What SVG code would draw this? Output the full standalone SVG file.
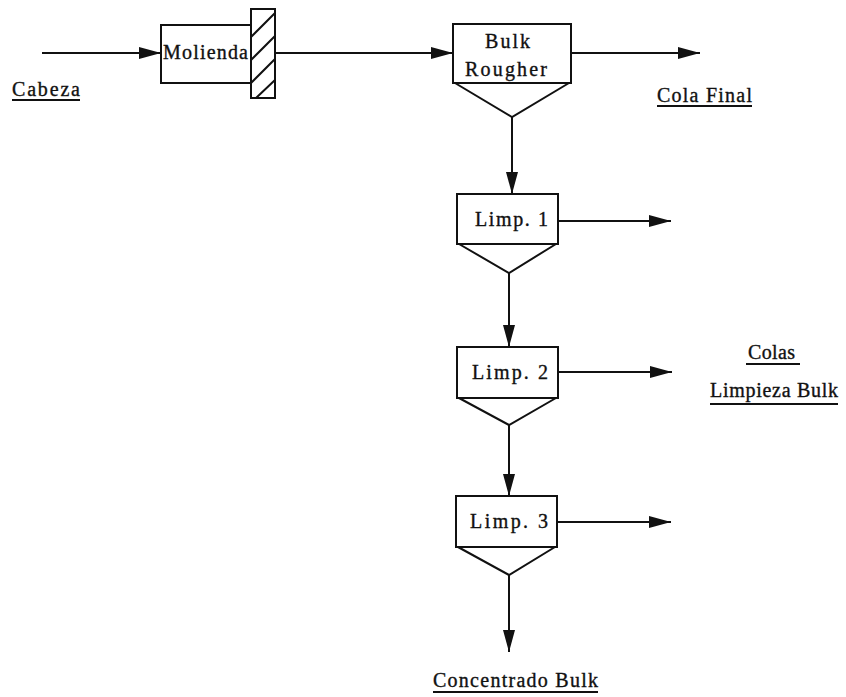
<svg xmlns="http://www.w3.org/2000/svg" width="846" height="697" viewBox="0 0 846 697">
<style>
.b{fill:#fff;stroke:#111;stroke-width:2}
.l{fill:none;stroke:#111;stroke-width:2}
.t{font-family:"Liberation Serif",serif;font-size:20px;fill:#111;stroke:#111;stroke-width:0.35}
.u{stroke:#111;stroke-width:1.8}
</style>
<defs>
<marker id="a" markerUnits="userSpaceOnUse" markerWidth="24" markerHeight="14" refX="22" refY="6" orient="auto">
<path d="M0,0 L22,6 L0,12 Z" fill="#111"/>
</marker>
</defs>
<rect width="846" height="697" fill="#fff"/>
<g id="connectors">
<line class="l" x1="42" y1="53" x2="161" y2="53" marker-end="url(#a)"/>
<line class="l" x1="275" y1="53" x2="453" y2="53" marker-end="url(#a)"/>
<line class="l" x1="571" y1="53" x2="700" y2="53" marker-end="url(#a)"/>
<line class="l" x1="512" y1="117" x2="512" y2="194" marker-end="url(#a)"/>
<line class="l" x1="558" y1="221" x2="671" y2="221" marker-end="url(#a)"/>
<line class="l" x1="509" y1="273" x2="509" y2="347" marker-end="url(#a)"/>
<line class="l" x1="558" y1="372" x2="672" y2="372" marker-end="url(#a)"/>
<line class="l" x1="509" y1="425" x2="509" y2="496" marker-end="url(#a)"/>
<line class="l" x1="557" y1="522" x2="671" y2="522" marker-end="url(#a)"/>
<line class="l" x1="509" y1="575" x2="509" y2="652" marker-end="url(#a)"/>
</g>
<g id="molienda">
<rect class="b" x="161" y="25" width="90" height="58"/>
<rect class="b" x="251" y="9" width="24" height="89"/>
<path class="l" d="M251,37 L275,13 M251,60 L275,36 M251,83 L275,59 M256,98 L275,80"/>
<text class="t" x="163" y="59" textLength="85">Molienda</text>
</g>
<g id="bulk-rougher">
<rect class="b" x="453" y="24" width="118" height="59"/>
<path class="l" d="M455,83 L512,117 L569,83"/>
<text class="t" x="485" y="48" textLength="45">Bulk</text>
<text class="t" x="465" y="76" textLength="82">Rougher</text>
</g>
<g id="limp1">
<rect class="b" x="457" y="194" width="101" height="50"/>
<path class="l" d="M459,244 L509,273 L556,244"/>
<text class="t" x="475" y="226" textLength="73">Limp. 1</text>
</g>
<g id="limp2">
<rect class="b" x="457" y="347" width="101" height="51"/>
<path class="l" d="M459,398 L509,425 L556,398"/>
<text class="t" x="472" y="379" textLength="76">Limp. 2</text>
</g>
<g id="limp3">
<rect class="b" x="456" y="496" width="101" height="51"/>
<path class="l" d="M458,547 L509,575 L555,547"/>
<text class="t" x="470" y="528" textLength="78">Limp. 3</text>
</g>
<g id="labels">
<text class="t" x="12" y="96" textLength="68">Cabeza</text>
<line class="u" x1="12" y1="100" x2="80" y2="100"/>
<text class="t" x="657" y="102" textLength="95">Cola Final</text>
<line class="u" x1="657" y1="106" x2="752" y2="106"/>
<text class="t" x="748" y="359" textLength="47">Colas</text>
<line class="u" x1="746" y1="364" x2="800" y2="364"/>
<text class="t" x="710" y="397" textLength="128">Limpieza Bulk</text>
<line class="u" x1="710" y1="404" x2="838" y2="404"/>
<text class="t" x="433" y="687" textLength="165">Concentrado Bulk</text>
<line class="u" x1="433" y1="692" x2="598" y2="692"/>
</g>
</svg>
